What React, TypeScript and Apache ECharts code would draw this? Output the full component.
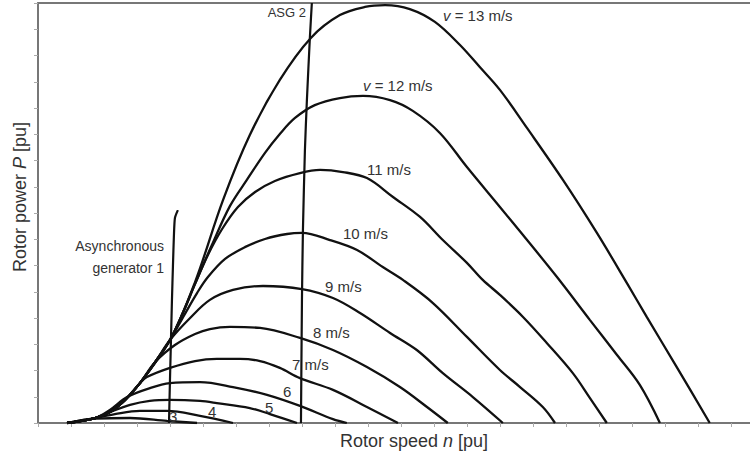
import React, { useEffect, useRef } from "react";
import * as echarts from "echarts";

// x in axis tick units (rotor speed), y in axis tick units (rotor power)
const envelope: number[][] = [[0.88, 0], [1.73, 0.19], [2.18, 0.42], [2.64, 0.88], [3.09, 1.52], [3.55, 2.32], [4.0, 3.16]];

const v3: number[][] = [[0.88, 0], [1.73, 0.17], [2.79, 0.19], [3.91, 0.08], [4.82, 0]];
const v4: number[][] = [[0.88, 0], [1.73, 0.19], [2.33, 0.34], [3.09, 0.46], [3.91, 0.46], [4.91, 0.27], [5.91, 0]];
const v5: number[][] = [[0.88, 0], [1.73, 0.19], [2.18, 0.42], [2.79, 0.69], [3.39, 0.84], [4.0, 0.88], [4.91, 0.84], [5.42, 0.76], [6.42, 0.57], [7.03, 0.34], [7.85, 0]];
const v6: number[][] = [[0.88, 0], [1.73, 0.19], [2.18, 0.5], [2.7, 0.99], [3.39, 1.33], [4.0, 1.52], [4.91, 1.56], [5.91, 1.37], [6.94, 1.07], [7.94, 0.65], [8.94, 0.15], [9.36, 0]];
const v7tail: number[][] = [[3.3, 1.75], [4.0, 2.1], [4.76, 2.36], [5.42, 2.44], [6.12, 2.44], [6.73, 2.36], [7.33, 2.1], [7.94, 1.71], [8.94, 1.26], [9.97, 0.61], [10.91, 0]];
const v8tail: number[][] = [[3.55, 2.32], [4.15, 2.97], [4.76, 3.39], [5.21, 3.58], [5.82, 3.66], [6.73, 3.62], [7.94, 3.24], [8.94, 2.78], [9.97, 2.13], [10.97, 1.37], [11.79, 0.61], [12.42, 0]];
const v9tail: number[][] = [[4.61, 4.0], [5.21, 4.69], [5.91, 5.07], [6.82, 5.22], [8.0, 5.1], [8.94, 4.76], [9.76, 4.19], [10.67, 3.43], [11.48, 2.78], [12.27, 1.9], [13.18, 0.99], [14.09, 0]];
const v10tail: number[][] = [[4.45, 4.15], [4.82, 4.95], [5.15, 5.56], [5.67, 6.25], [6.27, 6.7], [6.88, 7.01], [7.55, 7.2], [8.0, 7.24], [8.85, 6.97], [9.67, 6.59], [10.45, 5.94], [11.06, 5.45], [11.97, 4.57], [13.0, 3.28], [14.0, 2.02], [14.61, 1.37], [15.3, 0.61], [15.67, 0]];
const v11tail: number[][] = [[4.39, 4.19], [4.76, 5.3], [5.15, 6.4], [5.58, 7.39], [6.06, 8.23], [6.58, 8.8], [7.18, 9.22], [7.94, 9.52], [8.55, 9.64], [9.24, 9.56], [9.97, 9.33], [10.76, 8.61], [11.58, 7.85], [12.27, 6.97], [13.0, 6.1], [13.48, 5.45], [14.0, 4.88], [14.7, 4.04], [15.42, 3.05], [16.21, 1.9], [16.73, 0.95], [17.24, 0]];
const v12tail: number[][] = [[4.39, 4.19], [4.76, 5.3], [5.27, 6.78], [5.82, 8.27], [6.33, 9.26], [6.88, 10.29], [7.33, 11.01], [7.79, 11.62], [8.39, 12.11], [9.15, 12.38], [9.85, 12.46], [10.67, 12.3], [11.36, 11.89], [12.18, 11.05], [13.0, 9.75], [14.0, 8.23], [14.7, 7.16], [15.73, 5.56], [16.73, 3.92], [17.55, 2.59], [18.24, 1.45], [18.85, 0]];
const v13: number[][] = [[3.09, 1.52], [4.0, 3.16], [4.76, 5.37], [5.61, 8.5], [6.42, 10.97], [7.33, 13.07], [8.27, 14.67], [9.15, 15.54], [9.91, 15.85], [10.52, 15.92], [11.27, 15.77], [12.03, 15.28], [12.79, 14.4], [13.39, 13.56], [14.0, 12.69], [14.82, 11.24], [15.91, 9.26], [16.94, 7.24], [17.85, 5.33], [18.45, 4.04], [19.36, 2.13], [20.36, 0]];

const asg1: number[][] = [[3.97, 0], [4.0, 1.64], [4.03, 3.16], [4.06, 4.69], [4.09, 5.98], [4.12, 7.16], [4.15, 7.81], [4.24, 8.11]];
const asg2: number[][] = [[7.97, 0], [8.0, 4.69], [8.03, 7.35], [8.09, 10.4], [8.15, 12.3], [8.24, 14.67], [8.3, 16.0]];

const X_MAX = 21.58;
const Y_MAX = 16;

const FONT = "'Liberation Sans', Arial, Helvetica, sans-serif";
const TEXT_COLOR = "#333";

const curves: number[][][] = [
  v3,
  v4,
  v5,
  v6,
  envelope.slice(0, 5).concat(v7tail),
  envelope.slice(0, 5).concat(v8tail),
  envelope.concat(v9tail),
  envelope.concat(v10tail),
  envelope.concat(v11tail),
  envelope.concat(v12tail),
  v13,
];

const curveLabels: { text: string; x: number; y: number; size: number }[] = [
  { text: "{i|v} = 13 m/s", x: 443, y: 15, size: 15 },
  { text: "{i|v} = 12 m/s", x: 363, y: 85, size: 15 },
  { text: "11 m/s", x: 367, y: 169, size: 15 },
  { text: "10 m/s", x: 343, y: 233, size: 15 },
  { text: "9 m/s", x: 325, y: 286, size: 15 },
  { text: "8 m/s", x: 313, y: 332, size: 15 },
  { text: "7 m/s", x: 292, y: 364, size: 15 },
  { text: "6", x: 283, y: 391, size: 15 },
  { text: "5", x: 265, y: 407, size: 15 },
  { text: "4", x: 208, y: 411, size: 15 },
  { text: "3", x: 169, y: 416, size: 15 },
];

export default function App() {
  const ref = useRef<HTMLDivElement>(null);

  useEffect(() => {
    if (!ref.current) return;
    const chart = echarts.init(ref.current, undefined, { renderer: "svg" });

    const lineSeries = curves.map((d) => ({
      type: "line",
      data: d,
      smooth: 0.35,
      showSymbol: false,
      symbol: "none",
      lineStyle: { color: "#111", width: 2.3 },
      z: 3,
    }));

    const genSeries = [asg1, asg2].map((d) => ({
      type: "line",
      data: d,
      smooth: 0.2,
      showSymbol: false,
      symbol: "none",
      lineStyle: { color: "#111", width: 2.2 },
      z: 4,
    }));

    const rich = (size: number) => ({
      i: { fontStyle: "italic", fontSize: size, fontFamily: FONT, fill: TEXT_COLOR },
    });

    const graphics: any[] = curveLabels.map((l) => ({
      type: "text",
      x: l.x,
      y: l.y,
      z: 10,
      style: {
        text: l.text,
        fontSize: l.size,
        fontFamily: FONT,
        fill: TEXT_COLOR,
        textAlign: "left",
        textVerticalAlign: "middle",
        rich: rich(l.size),
      },
    }));

    graphics.push(
      {
        type: "text",
        x: 306,
        y: 12,
        style: { text: "ASG 2", fontSize: 13, fontFamily: FONT, fill: TEXT_COLOR, textAlign: "right", textVerticalAlign: "middle" },
      },
      {
        type: "text",
        x: 164,
        y: 246,
        style: { text: "Asynchronous", fontSize: 14, fontFamily: FONT, fill: TEXT_COLOR, textAlign: "right", textVerticalAlign: "middle" },
      },
      {
        type: "text",
        x: 164,
        y: 268,
        style: { text: "generator 1", fontSize: 14, fontFamily: FONT, fill: TEXT_COLOR, textAlign: "right", textVerticalAlign: "middle" },
      },
      {
        type: "text",
        x: 414,
        y: 441,
        style: {
          text: "Rotor speed {i|n} [pu]",
          fontSize: 18,
          fontFamily: FONT,
          fill: TEXT_COLOR,
          textAlign: "center",
          textVerticalAlign: "middle",
          rich: rich(18),
        },
      },
      {
        type: "text",
        x: 20,
        y: 197,
        rotation: Math.PI / 2,
        style: {
          text: "Rotor power {i|P} [pu]",
          fontSize: 18,
          fontFamily: FONT,
          fill: TEXT_COLOR,
          textAlign: "center",
          textVerticalAlign: "middle",
          rich: rich(18),
        },
      }
    );

    const axisLine = { show: true, lineStyle: { color: "#777", width: 2 } };

    chart.setOption({
      animation: false,
      backgroundColor: "#fff",
      grid: { left: 38, right: 0, top: 3, bottom: 33, containLabel: false },
      xAxis: [
        {
          type: "value",
          min: 0,
          max: X_MAX,
          interval: 1,
          axisLine,
          axisTick: { show: true, length: 4, lineStyle: { color: "#aaa", width: 1 } },
          axisLabel: { show: false },
          splitLine: { show: false },
        },
        {
          type: "value",
          position: "top",
          min: 0,
          max: X_MAX,
          interval: 1,
          axisLine,
          axisTick: { show: false },
          axisLabel: { show: false },
          splitLine: { show: false },
        },
      ],
      yAxis: {
        type: "value",
        min: 0,
        max: Y_MAX,
        interval: 1,
        axisLine,
        axisTick: { show: true, length: 4, lineStyle: { color: "#aaa", width: 1 } },
        axisLabel: { show: false },
        splitLine: { show: false },
      },
      series: [...lineSeries, ...genSeries],
      graphic: graphics,
    });

    return () => chart.dispose();
  }, []);

  return <div ref={ref} style={{ position: "absolute", left: 0, top: 0, width: 750, height: 456 }} />;
}
